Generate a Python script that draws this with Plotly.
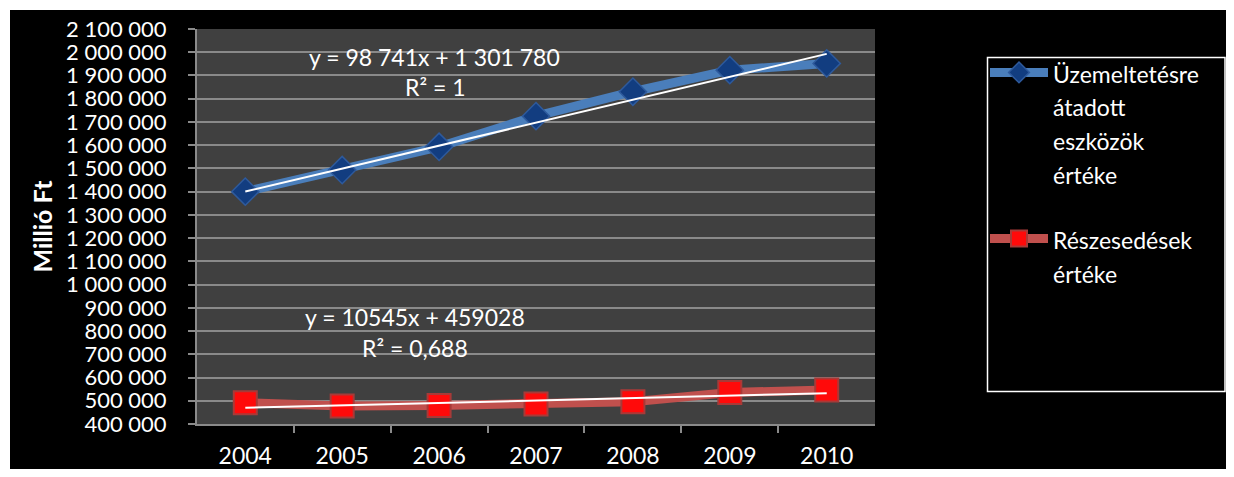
import plotly.graph_objects as go

years = ["2004", "2005", "2006", "2007", "2008", "2009", "2010"]
eszkozok = [1400000, 1493000, 1593000, 1725000, 1830000, 1923000, 1952000]
reszesedes = [491700, 477500, 480000, 486000, 496000, 536000, 546000]

# trendline coefficients (x = 1..7) as printed on the chart
trend_blue = [98741, 1301780]
trend_red = [10545, 459028]

y_ticks = [400000, 500000, 600000, 700000, 800000, 900000, 1000000, 1100000, 1200000,
           1300000, 1400000, 1500000, 1600000, 1700000, 1800000, 1900000, 2000000, 2100000]
y_ticktext = ["400 000", "500 000", "600 000", "700 000", "800 000", "900 000", "1 000 000",
              "1 100 000", "1 200 000", "1 300 000", "1 400 000", "1 500 000", "1 600 000",
              "1 700 000", "1 800 000", "1 900 000", "2 000 000", "2 100 000"]

FONT = "Lato"
OFF = 8                      # page body margin
W, H = 1234 - 2 * OFF, 477 - 2 * OFF
# plot area in page pixels
L, R, T, B = 197, 875, 29, 424

def trend(coef, n):
    return [coef[0] * 1 + coef[1], coef[0] * n + coef[1]]

fig = go.Figure()

fig.add_trace(go.Scatter(
    x=years, y=eszkozok, mode="lines+markers",
    name="<span style='font-size:23px'>Üzemeltetésre<br>átadott<br>eszközök<br>értéke</span>",
    legendgroup="a",
    line=dict(color="#4A7EBB", width=9),
    marker=dict(symbol="diamond", size=21, color="#123D80",
                line=dict(color="#2E5A9C", width=1.5)),
))
fig.add_trace(go.Scatter(
    x=years, y=reszesedes, mode="lines+markers",
    name="<span style='font-size:23px'>Részesedések<br>értéke</span>",
    legendgroup="b",
    line=dict(color="#C0504D", width=9),
    marker=dict(symbol="square", size=23, color="#FF0A0A",
                line=dict(color="#A83A38", width=2)),
))
fig.add_trace(go.Scatter(
    x=[years[0], years[-1]], y=trend(trend_blue, len(years)), mode="lines",
    line=dict(color="white", width=2), showlegend=False, hoverinfo="skip",
))
fig.add_trace(go.Scatter(
    x=[years[0], years[-1]], y=trend(trend_red, len(years)), mode="lines",
    line=dict(color="white", width=2), showlegend=False, hoverinfo="skip",
))

def px(xp):
    return (xp - L) / (R - L)

def py(yp):
    return (B - yp) / (B - T)

ann = [
    ("y = 98 741x + 1 301 780", 434, 57),
    ("R² = 1", 435, 87),
    ("y = 10545x + 459028", 415, 317),
    ("R² = 0,688", 415, 348),
]
annotations = [dict(text=t, x=px(x), y=py(y), xref="paper", yref="paper",
                    showarrow=False, xanchor="center", yanchor="middle",
                    font=dict(family=FONT, size=23, color="white"))
               for t, x, y in ann]

shapes = [
    # white page border at top and left (beyond the body margin)
    dict(type="rect", xref="paper", yref="paper", x0=px(OFF - 1), x1=px(1240), y0=py(10), y1=py(OFF - 1),
         fillcolor="white", line=dict(width=0), layer="above"),
    dict(type="rect", xref="paper", yref="paper", x0=px(OFF - 1), x1=px(10), y0=py(480), y1=py(OFF - 1),
         fillcolor="white", line=dict(width=0), layer="above"),
    # legend frame
    dict(type="rect", xref="paper", yref="paper", x0=px(987.5), x1=px(1225), y0=py(391.5), y1=py(57.5),
         fillcolor="rgba(0,0,0,0)", line=dict(color="white", width=1.5), layer="above"),
]

fig.update_layout(
    width=W, height=H,
    margin=dict(l=L - OFF, r=(W + OFF) - R, t=T - OFF, b=(H + OFF) - B, pad=0, autoexpand=False),
    paper_bgcolor="black", plot_bgcolor="#404040",
    font=dict(family=FONT, color="white", size=23),
    showlegend=True,
    legend=dict(x=px(985), y=py(49), xanchor="left", yanchor="top", valign="top",
                bgcolor="rgba(0,0,0,0)", borderwidth=0,
                font=dict(family=FONT, size=26, color="white"),
                itemwidth=58, tracegroupgap=28, traceorder="grouped"),
    annotations=annotations,
    shapes=shapes,
    xaxis=dict(type="category", showgrid=False, showline=True, linecolor="#8A8A8A", linewidth=2,
               ticks="outside", tickson="boundaries", ticklen=7, tickcolor="#8A8A8A", tickwidth=2,
               automargin=False,
               tickfont=dict(family=FONT, size=23, color="white"), ticklabelstandoff=10),
    yaxis=dict(range=[400000, 2100000], tickvals=y_ticks, ticktext=y_ticktext,
               showgrid=True, gridcolor="#8A8A8A", gridwidth=2,
               showline=True, linecolor="#8A8A8A", linewidth=2, zeroline=False,
               ticks="outside", ticklen=7, tickcolor="#8A8A8A", tickwidth=2,
               automargin=False,
               tickfont=dict(family=FONT, size=22, color="white"), ticklabelstandoff=17,
               title=dict(text="<b>Millió Ft</b>", standoff=6,
                          font=dict(family=FONT, size=25, color="white"))),
)

fig.write_html("out.html")
